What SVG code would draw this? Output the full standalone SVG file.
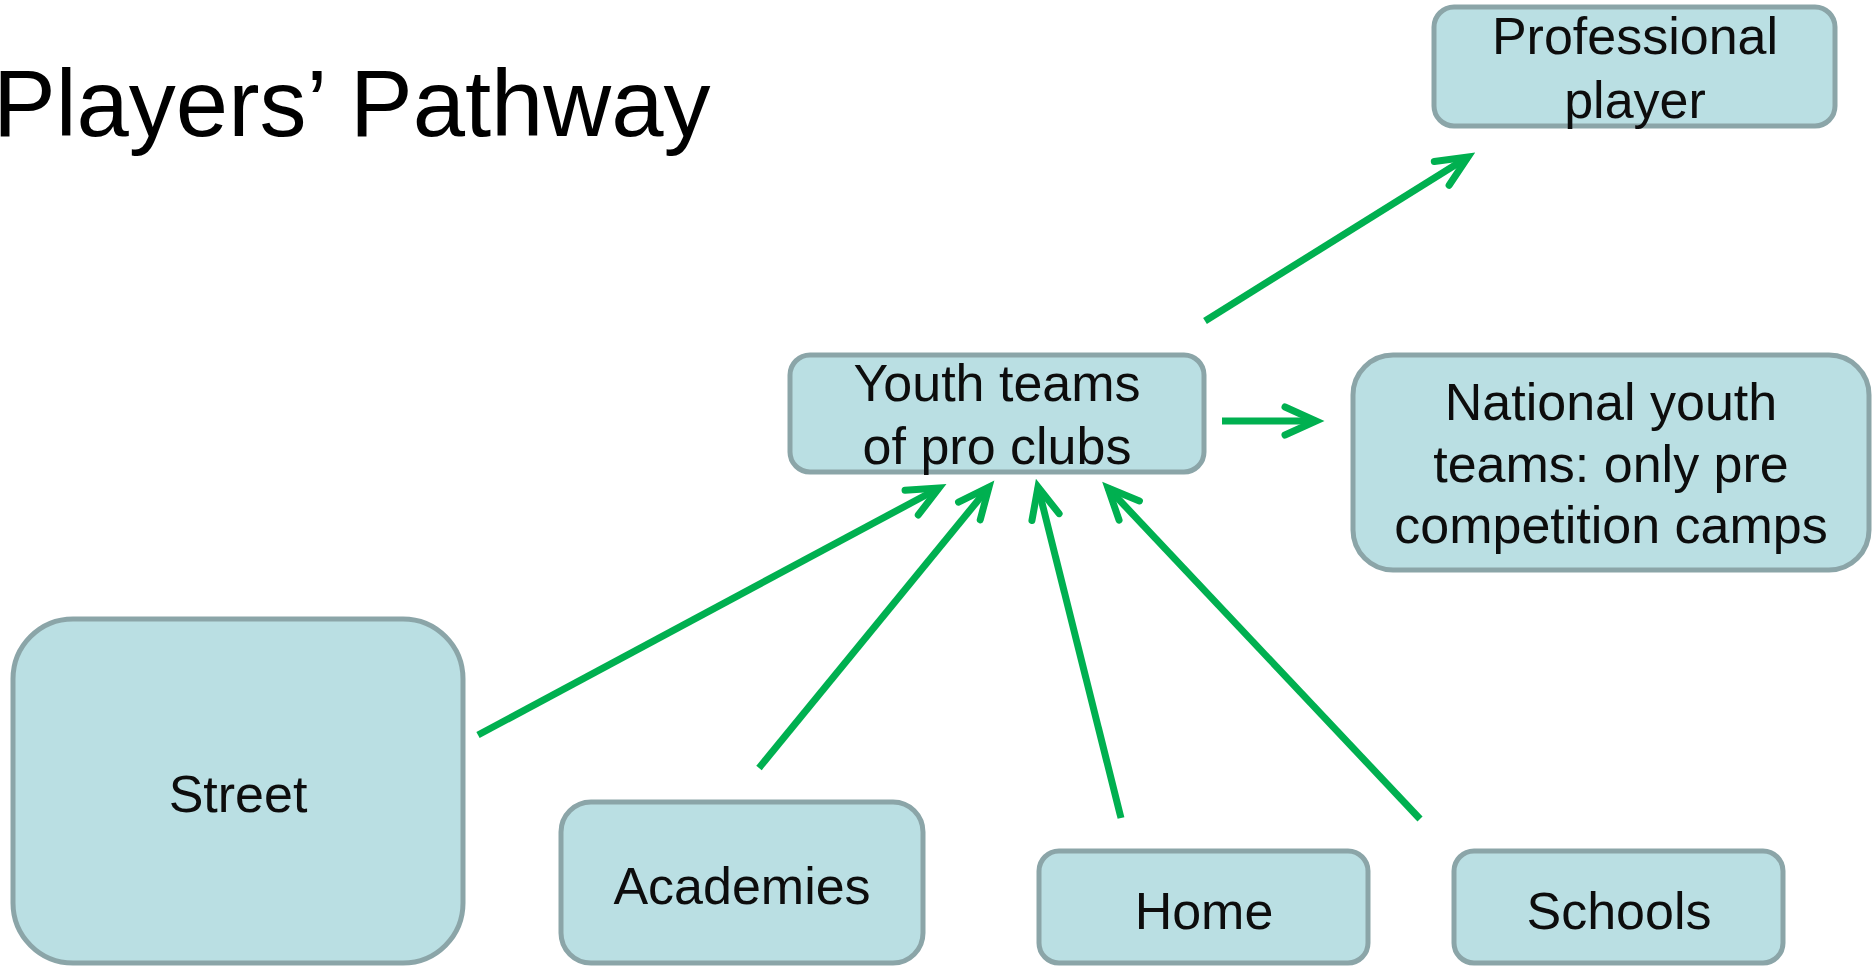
<svg xmlns="http://www.w3.org/2000/svg" width="1874" height="966" viewBox="0 0 1874 966">
<style>
.box{fill:#BADFE3;stroke:#8BA5A8;stroke-width:5}
.t{font-family:"Liberation Sans",Arial,sans-serif;font-size:52px;fill:#0D0D0D;text-anchor:middle}
.title{font-family:"Liberation Sans",Arial,sans-serif;font-size:94px;fill:#000}
.arr{stroke:#00B050;stroke-width:7;fill:none;marker-end:url(#ah)}
</style>
<defs>
<marker id="ah" markerUnits="userSpaceOnUse" refX="0" refY="0" orient="auto" overflow="visible" markerWidth="1" markerHeight="1">
<path d="M-31,-14 L0,0 L-31,14" fill="none" stroke="#00B050" stroke-width="7" stroke-linecap="round" stroke-linejoin="miter"/>
</marker>
</defs>
<rect width="1874" height="966" fill="#fff"/>
<text class="title" x="-7" y="136">Players’ Pathway</text>
<g id="professional">
<rect class="box" x="1434" y="7" width="401" height="119" rx="20"/>
<text class="t" x="1635" y="54">Professional</text>
<text class="t" x="1635" y="118">player</text>
</g>
<g id="youth">
<rect class="box" x="790" y="355" width="414" height="117" rx="20"/>
<text class="t" x="997" y="401">Youth teams</text>
<text class="t" x="997" y="464">of pro clubs</text>
</g>
<g id="national">
<rect class="box" x="1353" y="355" width="516" height="215" rx="40"/>
<text class="t" x="1611" y="420">National youth</text>
<text class="t" x="1611" y="482">teams: only pre</text>
<text class="t" x="1611" y="543">competition camps</text>
</g>
<g id="street">
<rect class="box" x="13" y="619" width="450" height="344" rx="60"/>
<text class="t" x="238" y="812">Street</text>
</g>
<g id="academies">
<rect class="box" x="561" y="802" width="362" height="161" rx="30"/>
<text class="t" x="742" y="904">Academies</text>
</g>
<g id="home">
<rect class="box" x="1039" y="851" width="329" height="112" rx="20"/>
<text class="t" x="1204" y="929">Home</text>
</g>
<g id="schools">
<rect class="box" x="1454" y="851" width="329" height="112" rx="20"/>
<text class="t" x="1619" y="929">Schools</text>
</g>
<g id="connectors">
<path class="arr" d="M1205,321 L1468,157"/>
<path class="arr" d="M1222,421 L1316,421"/>
<path class="arr" d="M478,735 L939,488"/>
<path class="arr" d="M759,768 L989,487"/>
<path class="arr" d="M1121,818 L1038,487"/>
<path class="arr" d="M1420,819 L1108,488"/>
</g>
</svg>
